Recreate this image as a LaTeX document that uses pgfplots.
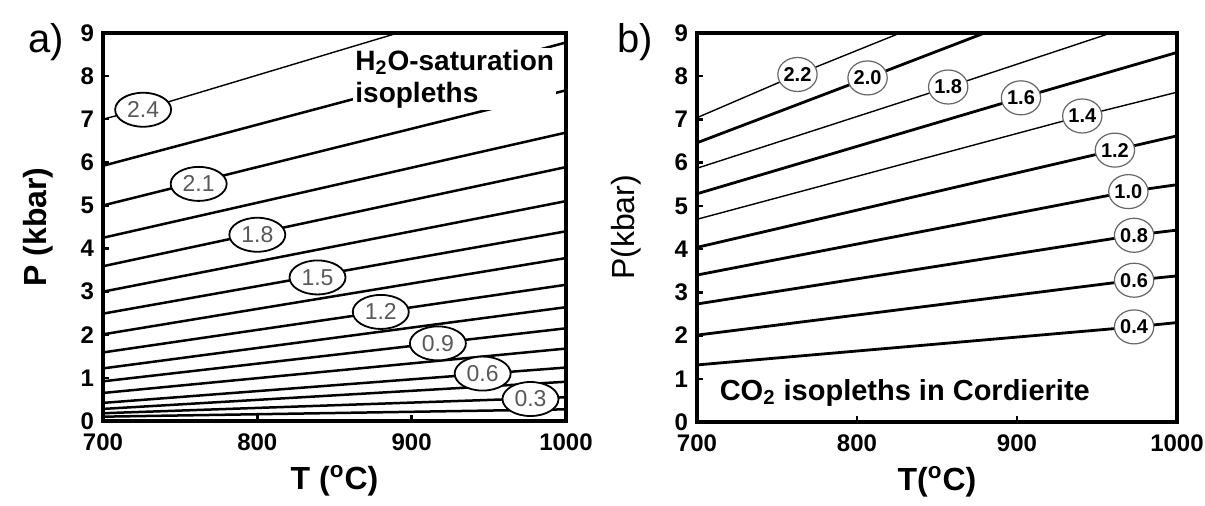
\documentclass[border=0pt]{standalone}
\usepackage{pgfplots}
\pgfplotsset{compat=1.18}
\usepackage{fontspec}
\setmainfont{Liberation Sans}
\usetikzlibrary{shapes.geometric}
\tikzset{
  labA/.style={ellipse, draw=black, line width=0.9pt, fill=white, minimum width=28pt, minimum height=17pt, inner sep=0pt, font=\fontsize{11.5}{11.5}\selectfont, text=black!65},
  labB/.style={ellipse, draw=black!60, line width=0.6pt, fill=white, minimum width=16.5pt, minimum height=17pt, inner sep=0pt, font=\fontsize{10}{10}\selectfont\bfseries},
  thk/.style={black, line width=1.25pt},
  thn/.style={black, line width=0.7pt}
}
\pgfplotsset{
  panel/.style={scale only axis, xmin=700, xmax=1000, ymin=0, ymax=9,
    xtick={700,800,900,1000}, ytick={0,1,...,9},
    axis line style={line width=1.6pt},
    tick align=inside, xtick pos=left, ytick pos=left,
    major tick length=3pt, tick style={line width=1.2pt, black},
    /pgf/number format/assume math mode=true, /pgf/number format/1000 sep={},
    ticklabel style={font=\fontsize{12}{12}\selectfont\bfseries},
    xticklabel style={yshift=-3pt},
    yticklabel style={xshift=-1pt},
    label style={font=\fontsize{16}{16}\selectfont\bfseries},
  }
}
\begin{document}
\begin{tikzpicture}[x=1pt,y=1pt]
\useasboundingbox (0,0) rectangle (602.5,253);
\node[font=\fontsize{20}{20}\selectfont] at (23,232) {a)};
\node[font=\fontsize{20}{20}\selectfont] at (317.5,232) {b)};
\begin{axis}[panel, at={(51.5pt,42.5pt)}, anchor=south west, width=231.5pt, height=194pt,
  xlabel={T (\textsuperscript{o}C)}, ylabel={P (kbar)},
  xlabel style={at={(axis description cs:0.5,0)}, anchor=center, yshift=-30pt},
  ylabel style={at={(axis description cs:-0.140,0.5)}, anchor=center}]
\addplot[thn] coordinates {(700,7.0) (743,7.41) (891,9)};
\addplot[thk] coordinates {(700,5.92) (1000,8.78)};
\addplot[thk] coordinates {(700,5.0) (1000,7.67)};
\addplot[thk] coordinates {(700,4.25) (1000,6.69)};
\addplot[thk] coordinates {(700,3.59) (1000,5.89)};
\addplot[thk] coordinates {(700,3.0) (1000,5.10)};
\addplot[thk] coordinates {(700,2.49) (1000,4.40)};
\addplot[thk] coordinates {(700,2.01) (1000,3.78)};
\addplot[thk] coordinates {(700,1.59) (1000,3.16)};
\addplot[thk] coordinates {(700,1.22) (1000,2.64)};
\addplot[thk] coordinates {(700,0.92) (1000,2.15)};
\addplot[thk] coordinates {(700,0.65) (1000,1.68)};
\addplot[thk] coordinates {(700,0.42) (1000,1.24)};
\addplot[thk] coordinates {(700,0.28) (1000,0.91)};
\addplot[thk] coordinates {(700,0.18) (1000,0.55)};
\addplot[thk] coordinates {(700,0.10) (1000,0.27)};
\node[anchor=west, align=left, fill=white, inner sep=1pt, font=\fontsize{14}{16}\selectfont\bfseries] at (axis cs:862,7.93) {H\textsubscript{2}O-saturation\\isopleths};
\node[labA] at (axis cs:726,7.22) {2.4};
\node[labA] at (axis cs:762,5.5) {2.1};
\node[labA] at (axis cs:800,4.32) {1.8};
\node[labA] at (axis cs:839,3.33) {1.5};
\node[labA] at (axis cs:880,2.53) {1.2};
\node[labA] at (axis cs:917,1.80) {0.9};
\node[labA] at (axis cs:946,1.10) {0.6};
\node[labA] at (axis cs:977,0.51) {0.3};
\end{axis}
\begin{axis}[panel, at={(348.5pt,42pt)}, anchor=south west, width=240pt, height=194.5pt,
  xlabel={T(\textsuperscript{o}C)}, ylabel={\mdseries P(kbar)},
  xlabel style={at={(axis description cs:0.5,0)}, anchor=center, yshift=-30pt},
  ylabel style={at={(axis description cs:-0.148,0.5)}, anchor=center}]
\addplot[thn] coordinates {(700,7.04) (762.8,8.04) (827,9)};
\addplot[thk, line width=1.4pt] coordinates {(700,6.46) (806.6,7.96) (879.7,9)};
\addplot[thn] coordinates {(700,5.87) (857,7.75) (958.8,9)};
\addplot[thk, line width=1.4pt] coordinates {(700,5.28) (902.5,7.50) (1000,8.55)};
\addplot[thn] coordinates {(700,4.69) (940.8,7.08) (1000,7.63)};
\addplot[thk, line width=1.4pt] coordinates {(700,4.04) (961.2,6.29) (1000,6.62)};
\addplot[thk, line width=1.4pt] coordinates {(700,3.40) (969.6,5.33) (1000,5.49)};
\addplot[thk, line width=1.4pt] coordinates {(700,2.73) (973.2,4.32) (1000,4.44)};
\addplot[thk, line width=1.4pt] coordinates {(700,2.01) (973.2,3.28) (1000,3.38)};
\addplot[thk, line width=1.4pt] coordinates {(700,1.32) (973.2,2.20) (1000,2.30)};
\node[anchor=west, inner sep=0pt, font=\fontsize{14.5}{14.5}\selectfont\bfseries] at (axis cs:714,0.67) {CO\textsubscript{2} isopleths in Cordierite};
\node[labB] at (axis cs:762.8,8.04) {2.2};
\node[labB] at (axis cs:806.6,7.96) {2.0};
\node[labB] at (axis cs:857,7.75) {1.8};
\node[labB] at (axis cs:902.5,7.50) {1.6};
\node[labB] at (axis cs:940.8,7.08) {1.4};
\node[labB] at (axis cs:961.2,6.29) {1.2};
\node[labB] at (axis cs:969.6,5.33) {1.0};
\node[labB] at (axis cs:973.2,4.32) {0.8};
\node[labB] at (axis cs:973.2,3.28) {0.6};
\node[labB] at (axis cs:973.2,2.20) {0.4};
\end{axis}
\end{tikzpicture}
\end{document}
